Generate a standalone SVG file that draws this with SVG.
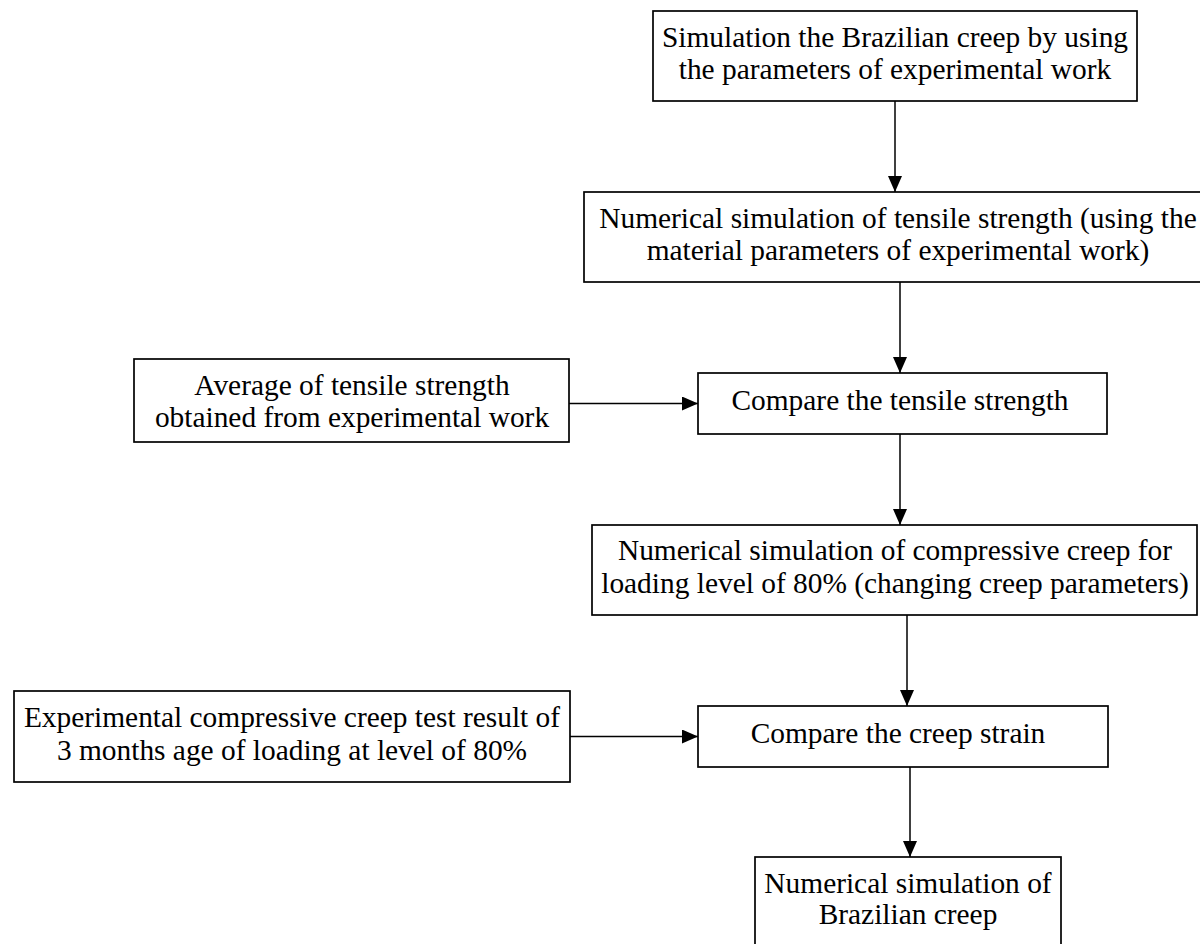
<svg xmlns="http://www.w3.org/2000/svg" width="1200" height="944" viewBox="0 0 1200 944">
<style>
.box{fill:#fff;stroke:#000;stroke-width:1.7}
.t{font-family:"Liberation Serif","Times New Roman",serif;font-size:29.4px;fill:#000;text-anchor:middle}
.c{stroke:#000;stroke-width:1.5;fill:none;marker-end:url(#ah)}
</style>
<defs>
<marker id="ah" markerUnits="userSpaceOnUse" markerWidth="16" markerHeight="14" refX="16" refY="7" orient="auto">
<path d="M0,0 L16,7 L0,14 z" fill="#000"/>
</marker>
</defs>
<rect width="1200" height="944" fill="#fff"/>
<g id="connectors">
<line class="c" x1="895" y1="101" x2="895" y2="192"/>
<line class="c" x1="900" y1="282" x2="900" y2="373"/>
<line class="c" x1="900" y1="434" x2="900" y2="525"/>
<line class="c" x1="907" y1="615" x2="907" y2="706"/>
<line class="c" x1="910" y1="767" x2="910" y2="857"/>
<line class="c" x1="569" y1="403.5" x2="698" y2="403.5"/>
<line class="c" x1="570" y1="736.5" x2="698" y2="736.5"/>
</g>
<g id="n1">
<rect class="box" x="653" y="11" width="484" height="90"/>
<text class="t" x="895" y="47">Simulation the Brazilian creep by using</text>
<text class="t" x="895" y="79">the parameters of experimental work</text>
</g>
<g id="n2">
<rect class="box" x="584" y="192" width="630" height="90"/>
<text class="t" x="898" y="227.5">Numerical simulation of tensile strength (using the</text>
<text class="t" x="898" y="260">material parameters of experimental work)</text>
</g>
<g id="n3">
<rect class="box" x="134" y="359" width="435" height="83"/>
<text class="t" x="352" y="395">Average of tensile strength</text>
<text class="t" x="352" y="427">obtained from experimental work</text>
</g>
<g id="n4">
<rect class="box" x="698" y="373" width="409" height="61"/>
<text class="t" x="900" y="410">Compare the tensile strength</text>
</g>
<g id="n5">
<rect class="box" x="592" y="525" width="605" height="90"/>
<text class="t" x="895" y="560">Numerical simulation of compressive creep for</text>
<text class="t" x="895" y="593">loading level of 80% (changing creep parameters)</text>
</g>
<g id="n6">
<rect class="box" x="14" y="691" width="556" height="91"/>
<text class="t" x="292" y="727">Experimental compressive creep test result of</text>
<text class="t" x="292" y="760">3 months age of loading at level of 80%</text>
</g>
<g id="n7">
<rect class="box" x="698" y="706" width="410" height="61"/>
<text class="t" x="898" y="742.5">Compare the creep strain</text>
</g>
<g id="n8">
<rect class="box" x="755" y="857" width="306" height="100"/>
<text class="t" x="908" y="893">Numerical simulation of</text>
<text class="t" x="908" y="924">Brazilian creep</text>
</g>
</svg>
